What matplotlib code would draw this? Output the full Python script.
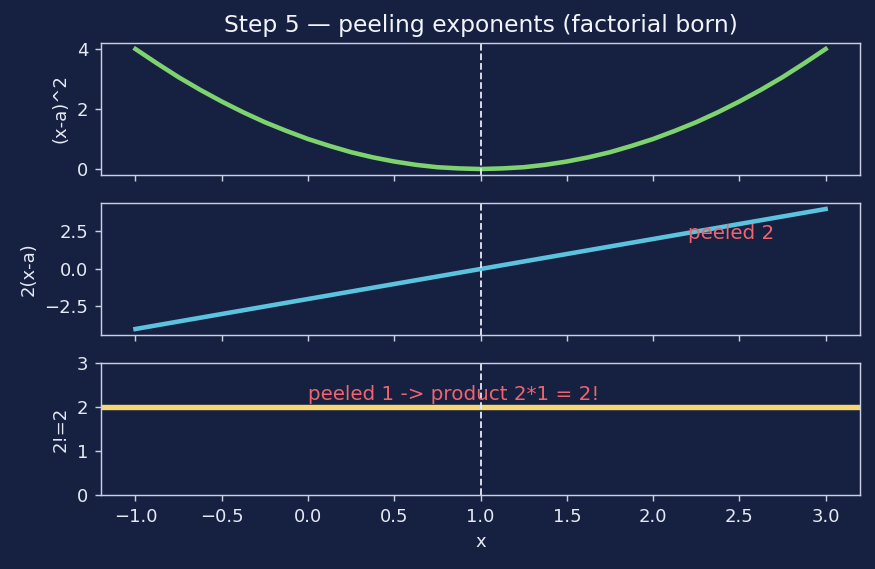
import matplotlib.pyplot as plt

# Values
x_vals = [-1.0, -0.875, -0.75, -0.625, -0.5, -0.375, -0.25, -0.125, 0.0,
          0.125, 0.25, 0.375, 0.5, 0.625, 0.75, 0.875, 1.0,
          1.125, 1.25, 1.375, 1.5, 1.625, 1.75, 1.875, 2.0,
          2.125, 2.25, 2.375, 2.5, 2.625, 2.75, 2.875, 3.0]
sq_vals = [4.0, 3.52, 3.06, 2.64, 2.25, 1.89, 1.56, 1.27, 1.0,
           0.77, 0.56, 0.39, 0.25, 0.14, 0.06, 0.02, 0.0,
           0.02, 0.06, 0.14, 0.25, 0.39, 0.56, 0.77, 1.0,
           1.27, 1.56, 1.89, 2.25, 2.64, 3.06, 3.52, 4.0]
lin_vals = [-4.0, -3.75, -3.5, -3.25, -3.0, -2.75, -2.5, -2.25, -2.0,
            -1.75, -1.5, -1.25, -1.0, -0.75, -0.5, -0.25, 0.0,
            0.25, 0.5, 0.75, 1.0, 1.25, 1.5, 1.75, 2.0,
            2.25, 2.5, 2.75, 3.0, 3.25, 3.5, 3.75, 4.0]
a_point = 1.0
fact_value = 2.0

bg = "#162040"
fg = "#e6eaf4"
spine = "#c9d0e2"

plt.rcParams.update({
    "figure.facecolor": bg,
    "axes.facecolor": bg,
    "axes.edgecolor": spine,
    "axes.labelcolor": fg,
    "xtick.color": spine,
    "ytick.color": spine,
    "xtick.labelcolor": fg,
    "ytick.labelcolor": fg,
    "text.color": fg,
    "font.size": 10,
})

# 875x569 px at 130 dpi
fig, axes = plt.subplots(3, 1, figsize=(875 / 130, 569 / 130), dpi=130, sharex=True)
fig.subplots_adjust(left=0.1154, right=0.983, top=0.9244, bottom=0.1301, hspace=0.212)

ax1, ax2, ax3 = axes

ax1.plot(x_vals, sq_vals, color="#7fd36e", linewidth=2.5)
ax1.set_ylabel("(x-a)^2")
ax1.set_title("Step 5 \u2014 peeling exponents (factorial born)", fontsize=13, color="#f2f4fa")

ax2.plot(x_vals, lin_vals, color="#5bc3dd", linewidth=2.5)
ax2.set_ylabel("2(x-a)")
ax2.text(2.2, 2.0, "peeled 2", color="#f0646e", fontsize=11)

ax3.axhline(fact_value, color="#f7d774", linewidth=3)
ax3.set_ylim(0, 3)
ax3.set_yticks([0, 1, 2, 3])
ax3.set_ylabel("2!=2")
ax3.set_xlabel("x")
ax3.text(0.0, 2.15, "peeled 1 -> product 2*1 = 2!", color="#f0646e", fontsize=11)

for ax in axes:
    ax.axvline(a_point, color="#e6eaf5", linestyle="--", linewidth=1)

ax3.set_xlim(-1.2, 3.2)

plt.savefig("out.png", dpi=130, facecolor=bg)
